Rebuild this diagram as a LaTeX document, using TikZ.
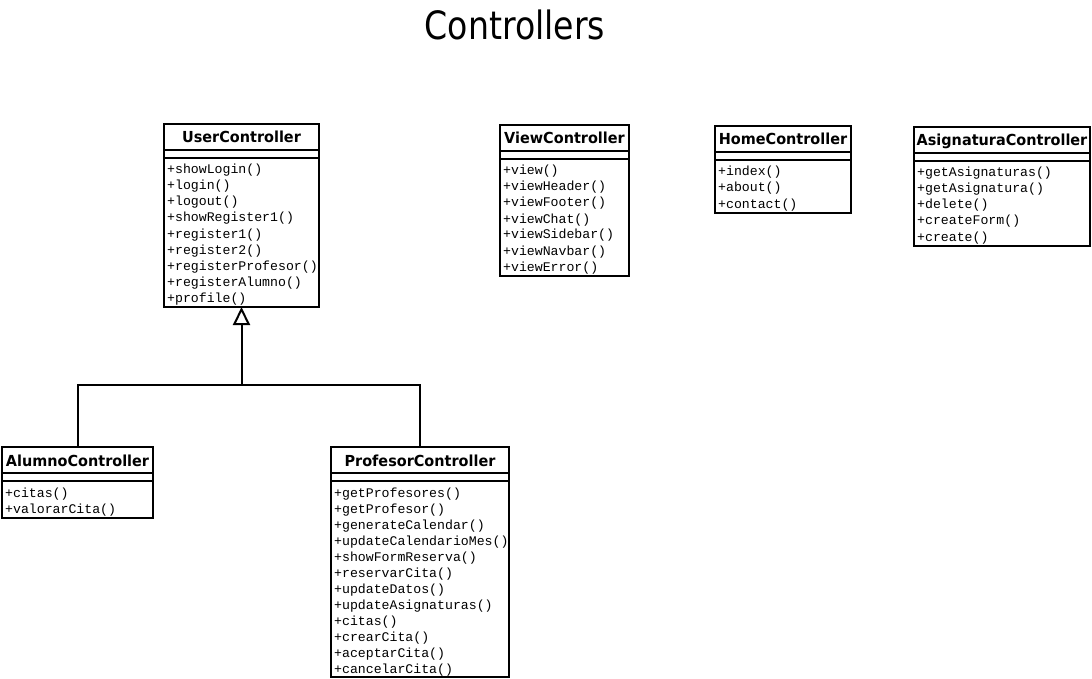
\documentclass[tikz,border=0pt]{standalone}
\usepackage{fontspec}
\usetikzlibrary{arrows.meta}
\newfontfamily\titlefont{DejaVu Sans}[FakeStretch=0.85]
\newfontfamily\hdrfont{DejaVu Sans}[FakeStretch=0.95]
\newfontfamily\methfont{Liberation Mono}
\tikzset{
  clsbox/.style={draw, line width=2pt, fill=white, inner sep=0pt, outer sep=0pt, anchor=north west},
  cline/.style={line width=2pt},
  ctitle/.style={font=\hdrfont\bfseries\fontsize{15.2}{18}\selectfont, anchor=base, inner sep=0pt},
  meth/.style={font=\methfont\fontsize{13.2}{16}\selectfont, anchor=base west, inner sep=0pt},
  genline/.style={line width=2pt},
  titlestyle/.style={font=\titlefont\fontsize{39}{44}\selectfont, anchor=base, inner sep=0pt}
}
\newcommand{\umlclass}[7]{%
  \node[clsbox, minimum width={(#4-#2)*1pt}, minimum height={(#5-#3)*1pt}] (#1) at (#2,-#3) {};
  \draw[cline] (#2,{-#3-26}) -- (#4,{-#3-26});
  \draw[cline] (#2,{-#3-34}) -- (#4,{-#3-34});
  \node[ctitle] (#1-t) at ({(#2+#4)/2},{-#3-19}) {#6};
  \foreach \m [count=\i from 0] in {#7} {\node[meth] (#1-m\i) at ({#2+3},{-#3-50-16*\i}) {\m};}
}
\begin{document}
\begin{tikzpicture}[x=1pt,y=1pt]
\useasboundingbox (0,0) rectangle (1092,-679);
\fill[white] (0,0) rectangle (1092,-679);
\node[titlestyle] (title) at (515,-40) {Controllers};

\umlclass{user}{164}{124}{319}{307}{UserController}{+showLogin(),+login(),+logout(),+showRegister1(),+register1(),+register2(),+registerProfesor(),+registerAlumno(),+profile()}
\umlclass{view}{500}{125}{629}{276}{ViewController}{+view(),+viewHeader(),+viewFooter(),+viewChat(),+viewSidebar(),+viewNavbar(),+viewError()}
\umlclass{home}{715}{126}{851}{213}{HomeController}{+index(),+about(),+contact()}
\umlclass{asig}{914}{127}{1090}{246}{AsignaturaController}{+getAsignaturas(),+getAsignatura(),+delete(),+createForm(),+create()}
\umlclass{alumno}{2}{447}{153}{518}{AlumnoController}{+citas(),+valorarCita()}
\umlclass{prof}{331}{447}{509}{677}{ProfesorController}{+getProfesores(),+getProfesor(),+generateCalendar(),+updateCalendarioMes(),+showFormReserva(),+reservarCita(),+updateDatos(),+updateAsignaturas(),+citas(),+crearCita(),+aceptarCita(),+cancelarCita()}

\coordinate (jc) at (user.south |- 0,-385);
\draw[genline] (alumno.north) |- (jc) -| (prof.north);
\draw[genline, -{Triangle[open, length=18pt, width=17pt, fill=white]}] (jc) -- (user.south);
\end{tikzpicture}
\end{document}
